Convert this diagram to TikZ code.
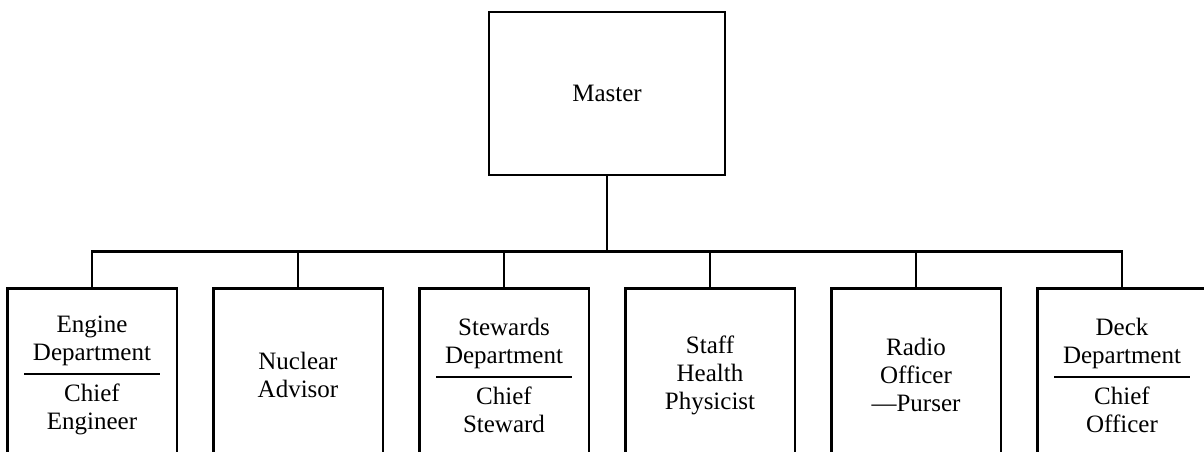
\documentclass[tikz,border=0pt]{standalone}
\usepackage{fontspec}
\setmainfont{Liberation Serif}
\newcommand{\deptsplit}[2]{#1\\[-13pt]\rule{136pt}{2.4pt}\\[-2pt]#2}
\begin{document}
\begin{tikzpicture}[x=1pt, y=1pt, line width=2.8pt,
    every node/.style={font=\fontsize{25}{28}\selectfont, align=center},
    masterbox/.style={draw, minimum width=236pt, minimum height=163pt},
    unitbox/.style={minimum width=167pt, minimum height=170pt, inner sep=0pt},
    level 1/.style={sibling distance=206pt, level distance=281.5pt},
    edge from parent path={(\tikzparentnode.south) -- ++(0,-75) -| (\tikzchildnode.north)}]
\useasboundingbox (0,0) rectangle (1204,451);
\node[masterbox] (master) at (607,357.5) {Master}
    child {node[unitbox] (engine) {\deptsplit{Engine\\Department}{Chief\\Engineer}}}
    child {node[unitbox] (nuclear) {Nuclear\\Advisor}}
    child {node[unitbox] (stewards) {\deptsplit{Stewards\\Department}{Chief\\Steward}}}
    child {node[unitbox] (staff) {Staff\\Health\\Physicist}}
    child {node[unitbox] (radio) {Radio\\Officer\\---Purser}}
    child {node[unitbox] (deck) {\deptsplit{Deck\\Department}{Chief\\Officer}}};
\foreach \n in {engine,nuclear,stewards,staff,radio,deck}
    \draw (\n.south west) |- (\n.north east) -- (\n.south east);
\end{tikzpicture}
\end{document}
